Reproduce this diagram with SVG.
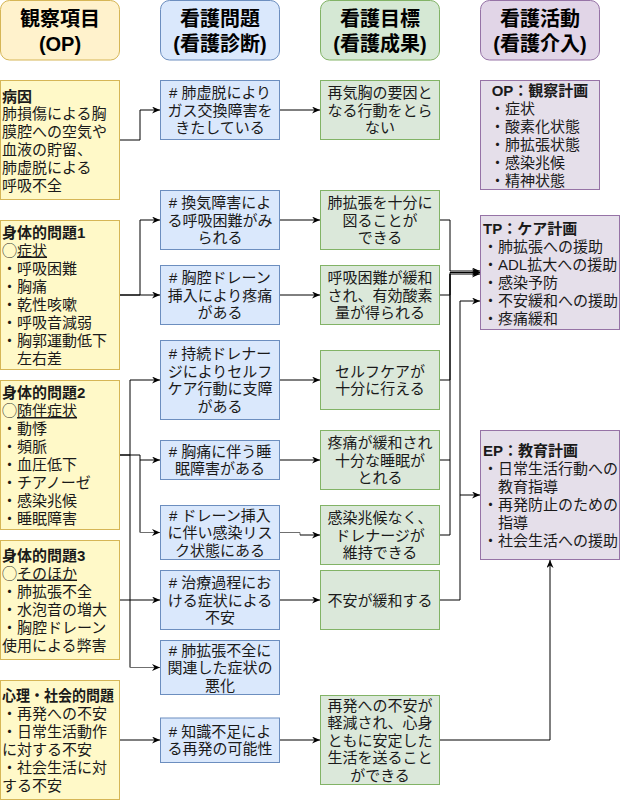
<svg xmlns="http://www.w3.org/2000/svg" width="621" height="801" viewBox="0 0 621 801">
<defs>
<marker id="arr" markerUnits="userSpaceOnUse" markerWidth="10" markerHeight="10" refX="8" refY="3.5" orient="auto">
<path d="M0,0 L8,3.5 L0,7 L2.5,3.5 Z" fill="#000"/>
</marker>
<style>
text{font-family:"Liberation Sans","Noto Sans CJK JP",sans-serif;font-size:15px;fill:#1a1a1a}
.c{text-anchor:middle}
.b{font-weight:bold}
.h{font-size:20px;font-weight:bold;text-anchor:middle;fill:#000}
.y{fill:#fff9c8;stroke:#d6b656}
.bl{fill:#dae8fc;stroke:#6c8ebf}
.g{fill:#dbe8da;stroke:#82b366}
.p{fill:#e5dfea;stroke:#9673a6}
.hy{fill:#fff2cc;stroke:#d6b656}
.hb{fill:#dae8fc;stroke:#6c8ebf}
.hg{fill:#d5e8d4;stroke:#82b366}
.hp{fill:#e1d5e7;stroke:#9673a6}
.e{fill:none;stroke:#000;stroke-width:1}
.eg{fill:none;stroke:#6f6f6f;stroke-width:1}
</style>
</defs>

<g id="headers">
<g id="h1"><rect class="hy" x="0.5" y="0.5" width="119" height="59.5" rx="9"/><text class="h" x="60" y="26">観察項目</text><text class="h" x="60" y="50.5">(OP)</text></g>
<g id="h2"><rect class="hb" x="160.5" y="0.5" width="119" height="59.5" rx="9"/><text class="h" x="220" y="26">看護問題</text><text class="h" x="220" y="50.5">(看護診断)</text></g>
<g id="h3"><rect class="hg" x="320.5" y="0.5" width="119" height="59.5" rx="9"/><text class="h" x="380" y="26">看護目標</text><text class="h" x="380" y="50.5">(看護成果)</text></g>
<g id="h4"><rect class="hp" x="480.5" y="0.5" width="119" height="59.5" rx="9"/><text class="h" x="540" y="26">看護活動</text><text class="h" x="540" y="50.5">(看護介入)</text></g>
</g>

<g id="connectors">
<polyline class="e" points="120,140 140,140 140,110 160,110" marker-end="url(#arr)"/>
<polyline class="e" points="280,110 320,110" marker-end="url(#arr)"/>
<polyline class="e" points="120,295 140,295 140,220 160,220" marker-end="url(#arr)"/>
<polyline class="e" points="120,295 160,295" marker-end="url(#arr)"/>
<polyline class="e" points="280,220 320,220" marker-end="url(#arr)"/>
<polyline class="e" points="280,295 320,295" marker-end="url(#arr)"/>
<polyline class="e" points="120,455 130,455 130,380 160,380" marker-end="url(#arr)"/>
<polyline class="e" points="120,455 140,455 140,460 160,460" marker-end="url(#arr)"/>
<polyline class="e" points="140,460 140,532.5"/>
<polyline class="eg" points="140,532.5 160,532.5" marker-end="url(#arr)"/>
<polyline class="e" points="120,600 160,600" marker-end="url(#arr)"/>
<polyline class="e" points="130,455 130,667.5"/>
<polyline class="eg" points="130,667.5 160,667.5" marker-end="url(#arr)"/>
<polyline class="e" points="120,740 160,740" marker-end="url(#arr)"/>
<polyline class="e" points="280,380 320,380" marker-end="url(#arr)"/>
<polyline class="e" points="280,460 320,460" marker-end="url(#arr)"/>
<polyline class="eg" points="280,532.5 300,532.5 300,535"/>
<polyline class="e" points="300,535 320,535" marker-end="url(#arr)"/>
<polyline class="e" points="280,600 320,600" marker-end="url(#arr)"/>
<polyline class="e" points="280,740 320,740" marker-end="url(#arr)"/>
<polyline class="e" points="440,220 450,220 450,271 480,271" marker-end="url(#arr)"/>
<polyline class="e" points="440,295 450,295 450,272.5 480,272.5" marker-end="url(#arr)"/>
<polyline class="e" points="440,380 450,380 450,274 480,274" marker-end="url(#arr)"/>
<polyline class="e" points="440,460 450,460 450,274"/>
<polyline class="e" points="440,535 450,535 450,460"/>
<polyline class="e" points="440,600 460,600 460,301 480,301" marker-end="url(#arr)"/>
<polyline class="e" points="460,495 480,495" marker-end="url(#arr)"/>
<polyline class="e" points="440,740 550,740 550,560" marker-end="url(#arr)"/>
</g>

<g id="n1a"><rect class="y" x="0.5" y="80.5" width="119" height="119"/>
<text x="2" y="101.5" class="b">病因</text>
<text x="2" y="119.3">肺損傷による胸</text>
<text x="2" y="137.1">膜腔への空気や</text>
<text x="2" y="154.9">血液の貯留、</text>
<text x="2" y="172.7">肺虚脱による</text>
<text x="2" y="190.5">呼吸不全</text></g>

<g id="n1b"><rect class="y" x="0.5" y="220.5" width="119" height="149"/>
<text x="2" y="237.5" class="b">身体的問題1</text>
<text x="2" y="255.5">◯<tspan text-decoration="underline">症状</tspan></text>
<text x="2" y="273.5">・呼吸困難</text>
<text x="2" y="291.5">・胸痛</text>
<text x="2" y="309.5">・乾性咳嗽</text>
<text x="2" y="327.5">・呼吸音減弱</text>
<text x="2" y="345.5">・胸郭運動低下</text>
<text x="17" y="363.5">左右差</text></g>

<g id="n1c"><rect class="y" x="0.5" y="380.5" width="119" height="149"/>
<text x="2" y="398" class="b">身体的問題2</text>
<text x="2" y="416">◯<tspan text-decoration="underline">随伴症状</tspan></text>
<text x="2" y="434">・動悸</text>
<text x="2" y="452">・頻脈</text>
<text x="2" y="470">・血圧低下</text>
<text x="2" y="488">・チアノーゼ</text>
<text x="2" y="506">・感染兆候</text>
<text x="2" y="524">・睡眠障害</text></g>

<g id="n1d"><rect class="y" x="0.5" y="540.5" width="119" height="119"/>
<text x="2" y="560.5" class="b">身体的問題3</text>
<text x="2" y="578.5">◯<tspan text-decoration="underline">そのほか</tspan></text>
<text x="2" y="596.5">・肺拡張不全</text>
<text x="2" y="614.5">・水泡音の増大</text>
<text x="2" y="632.5">・胸腔ドレーン</text>
<text x="2" y="650.5">使用による弊害</text></g>

<g id="n1e"><rect class="y" x="0.5" y="680.5" width="119" height="119"/>
<text x="2" y="701" class="b" textLength="112" lengthAdjust="spacingAndGlyphs">心理・社会的問題</text>
<text x="2" y="719">・再発への不安</text>
<text x="2" y="737">・日常生活動作</text>
<text x="2" y="755">に対する不安</text>
<text x="2" y="773">・社会生活に対</text>
<text x="2" y="791">する不安</text></g>

<g id="n2a"><rect class="bl" x="160.5" y="80.5" width="119" height="59"/>
<text class="c" x="220" y="98"># 肺虚脱により</text><text class="c" x="220" y="115.5">ガス交換障害を</text><text class="c" x="220" y="133">きたしている</text></g>
<g id="n2b"><rect class="bl" x="160.5" y="190.5" width="119" height="59"/>
<text class="c" x="220" y="208"># 換気障害によ</text><text class="c" x="220" y="225.5">る呼吸困難がみ</text><text class="c" x="220" y="243">られる</text></g>
<g id="n2c"><rect class="bl" x="160.5" y="265.5" width="119" height="59"/>
<text class="c" x="220" y="283"># 胸腔ドレーン</text><text class="c" x="220" y="300.5">挿入により疼痛</text><text class="c" x="220" y="318">がある</text></g>
<g id="n2d"><rect class="bl" x="160.5" y="340.5" width="119" height="79"/>
<text class="c" x="220" y="359.25"># 持続ドレナー</text><text class="c" x="220" y="376.75">ジによりセルフ</text><text class="c" x="220" y="394.25">ケア行動に支障</text><text class="c" x="220" y="411.75">がある</text></g>
<g id="n2e"><rect class="bl" x="160.5" y="440.5" width="119" height="39"/>
<text class="c" x="220" y="456.75"># 胸痛に伴う睡</text><text class="c" x="220" y="474.25">眠障害がある</text></g>
<g id="n2f"><rect class="bl" x="160.5" y="505.5" width="119" height="54"/>
<text class="c" x="220" y="520.5"># ドレーン挿入</text><text class="c" x="220" y="538">に伴い感染リス</text><text class="c" x="220" y="555.5">ク状態にある</text></g>
<g id="n2g"><rect class="bl" x="160.5" y="570.5" width="119" height="59"/>
<text class="c" x="220" y="588"># 治療過程にお</text><text class="c" x="220" y="605.5">ける症状による</text><text class="c" x="220" y="623">不安</text></g>
<g id="n2h"><rect class="bl" x="160.5" y="640.5" width="119" height="54"/>
<text class="c" x="220" y="655.5"># 肺拡張不全に</text><text class="c" x="220" y="673">関連した症状の</text><text class="c" x="220" y="690.5">悪化</text></g>
<g id="n2i"><rect class="bl" x="160.5" y="718" width="119" height="44.5"/>
<text class="c" x="220" y="736.75"># 知識不足によ</text><text class="c" x="220" y="754.25">る再発の可能性</text></g>

<g id="n3a"><rect class="g" x="320.5" y="80.5" width="119" height="59"/>
<text class="c" x="380" y="98">再気胸の要因と</text><text class="c" x="380" y="115.5">なる行動をとら</text><text class="c" x="380" y="133">ない</text></g>
<g id="n3b"><rect class="g" x="320.5" y="190.5" width="119" height="59"/>
<text class="c" x="380" y="208">肺拡張を十分に</text><text class="c" x="380" y="225.5">図ることが</text><text class="c" x="380" y="243">できる</text></g>
<g id="n3c"><rect class="g" x="320.5" y="265.5" width="119" height="59"/>
<text class="c" x="380" y="283">呼吸困難が緩和</text><text class="c" x="380" y="300.5">され、有効酸素</text><text class="c" x="380" y="318">量が得られる</text></g>
<g id="n3d"><rect class="g" x="320.5" y="350.5" width="119" height="59"/>
<text class="c" x="380" y="376.75">セルフケアが</text><text class="c" x="380" y="394.25">十分に行える</text></g>
<g id="n3e"><rect class="g" x="320.5" y="430.5" width="119" height="59"/>
<text class="c" x="380" y="448">疼痛が緩和され</text><text class="c" x="380" y="465.5">十分な睡眠が</text><text class="c" x="380" y="483">とれる</text></g>
<g id="n3f"><rect class="g" x="320.5" y="505.5" width="119" height="59"/>
<text class="c" x="380" y="523">感染兆候なく、</text><text class="c" x="380" y="540.5">ドレナージが</text><text class="c" x="380" y="558">維持できる</text></g>
<g id="n3g"><rect class="g" x="320.5" y="570.5" width="119" height="59"/>
<text class="c" x="380" y="605.5">不安が緩和する</text></g>
<g id="n3h"><rect class="g" x="320.5" y="695.5" width="119" height="89"/>
<text class="c" x="380" y="710.5">再発への不安が</text><text class="c" x="380" y="728">軽減され、心身</text><text class="c" x="380" y="745.5">ともに安定した</text><text class="c" x="380" y="763">生活を送ること</text><text class="c" x="380" y="780.5">ができる</text></g>

<g id="n4a"><rect class="p" x="480.5" y="80.5" width="119" height="109"/>
<text class="c b" x="540" y="95.5">OP：観察計画</text>
<text x="490" y="113.5">・症状</text>
<text x="490" y="131.5">・酸素化状態</text>
<text x="490" y="149.5">・肺拡張状態</text>
<text x="490" y="167.5">・感染兆候</text>
<text x="490" y="185.5">・精神状態</text></g>
<g id="n4b"><rect class="p" x="480.5" y="215.5" width="139" height="114"/>
<text class="b" x="483" y="233.5">TP：ケア計画</text>
<text x="483" y="251.5">・肺拡張への援助</text>
<text x="483" y="269.5">・ADL拡大への援助</text>
<text x="483" y="287.5">・感染予防</text>
<text x="483" y="305.5">・不安緩和への援助</text>
<text x="483" y="323.5">・疼痛緩和</text></g>
<g id="n4c"><rect class="p" x="480.5" y="430.5" width="139" height="129"/>
<text class="b" x="483" y="455.5">EP：教育計画</text>
<text x="483" y="473.5">・日常生活行動への</text>
<text x="498" y="491.5">教育指導</text>
<text x="483" y="509.5">・再発防止のための</text>
<text x="498" y="527.5">指導</text>
<text x="483" y="545.5">・社会生活への援助</text></g>
</svg>
